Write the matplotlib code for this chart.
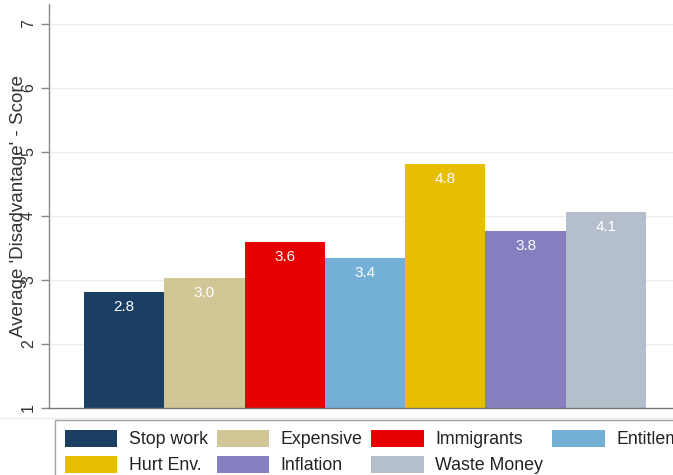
import matplotlib
matplotlib.use("Agg")
import matplotlib.pyplot as plt
from matplotlib.patches import Patch
from matplotlib.lines import Line2D

plt.rcParams['font.family'] = ['Liberation Sans', 'DejaVu Sans']

categories = ["Stop work", "Expensive", "Immigrants", "Entitlements",
              "Hurt Env.", "Inflation", "Waste Money"]
values = [2.82, 3.03, 3.59, 3.35, 4.82, 3.76, 4.07]
labels = ["2.8", "3.0", "3.6", "3.4", "4.8", "3.8", "4.1"]
colors = ["#1a3f63", "#d1c796", "#e60000", "#74b0d6",
          "#e8be00", "#857fc0", "#b5bfcb"]
yticks = [1, 2, 3, 4, 5, 6, 7]
ylabel = "Average 'Disadvantage' - Score"

W, H = 673, 475
fig = plt.figure(figsize=(W / 100, H / 100), dpi=100)

ax_left, ax_right, ax_top, ax_bottom = 49, 681, 4, 408
ppu = 64.0
ax = fig.add_axes([ax_left / W, 1 - ax_bottom / H,
                   (ax_right - ax_left) / W, (ax_bottom - ax_top) / H])

x = list(range(len(categories)))
bars = ax.bar(x, values, width=1.0, color=colors, zorder=2)

for xi, v, lab in zip(x, values, labels):
    ax.annotate(lab, xy=(xi, v), xytext=(0, -15), textcoords='offset pixels',
                ha='center', va='center', color='white', fontsize=11, zorder=3)

ax.set_xlim(-0.935, 6.935)
ax.set_ylim(1, 1 + (ax_bottom - ax_top) / ppu)
ax.set_xticks([])
ax.set_yticks(yticks)
ax.set_yticklabels([str(t) for t in yticks], rotation=90, va='center',
                   fontsize=11.5, color='#333333')
ax.tick_params(axis='y', length=5.8, width=1, color='#888888', pad=3.5)
for t in yticks[1:]:
    ax.axhline(t, color='#e6eef0', lw=1, zorder=1)

for s in ['top', 'right']:
    ax.spines[s].set_visible(False)
ax.spines['left'].set_color('#888888')
ax.spines['bottom'].set_color('#777777')
ax.spines['left'].set_linewidth(1)
ax.spines['bottom'].set_linewidth(1)

ax.set_ylabel(ylabel, fontsize=13.5, color='#333333', va='center')
ax.yaxis.set_label_coords(-(ax_left - 19) / (ax_right - ax_left),
                          (ax_bottom - 206) / (ax_bottom - ax_top))

# faint region border line below the plot
fig.add_artist(Line2D([0, 1], [1 - 418 / H, 1 - 418 / H], color='#eeeeee', lw=1))

# legend, ordered so rows read as in the reference
handles = [Patch(facecolor=c, edgecolor='none') for c in colors]
order = [0, 4, 1, 5, 2, 6, 3]
leg = fig.legend([handles[i] for i in order], [categories[i] for i in order],
                 ncol=4, loc='upper left',
                 bbox_to_anchor=(55 / W, 1 - 420 / H), borderaxespad=0,
                 fontsize=12.8, handlelength=2.95, handleheight=1.08,
                 handletextpad=0.65, columnspacing=0.5, labelspacing=0.42,
                 borderpad=0.55, fancybox=False, frameon=True)
leg.get_frame().set_edgecolor('#888888')
leg.get_frame().set_linewidth(1)
for t in leg.get_texts():
    t.set_color('#222222')

fig.savefig("out.png", dpi=100)
